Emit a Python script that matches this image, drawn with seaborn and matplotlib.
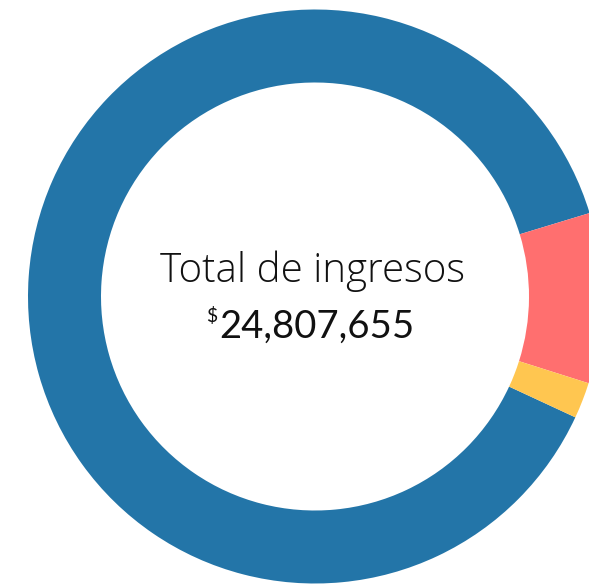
import matplotlib
matplotlib.use("Agg")
import matplotlib.pyplot as plt
import seaborn as sns

# Data (amounts in pesos)
categories = ["Fuente principal", "Segunda fuente", "Otros"]
amounts = [21927000, 2377000, 503655]
colors = ["#2375a8", "#ff6f6f", "#ffc650"]

title = "Total de ingresos"
total = sum(amounts)

sns.set_theme(style="white")

W, H = 589, 584
fig = plt.figure(figsize=(W / 100, H / 100), dpi=100)
ax = fig.add_axes([0, 0, 1, 1])

# ring centre and radii in pixel units (y measured from the bottom)
cx, cy = 315, H - 296.5
outer, ring = 287, 73

ax.pie(amounts, colors=colors, labels=None, startangle=-24.9, counterclock=False,
       center=(cx, cy), radius=outer,
       wedgeprops=dict(width=ring, linewidth=0, antialiased=True))

ax.set_xlim(0, W)
ax.set_ylim(0, H)
ax.set_aspect("equal")
ax.axis("off")

ax.text(cx - 2, H - 282.3, title, ha="center", va="baseline",
        fontsize=29, fontfamily="Open Sans", fontweight="light", color="#111111")
ax.text(219, H - 337.7, f"{total:,}", ha="left", va="baseline",
        fontsize=27.5, fontfamily="Lato", fontweight="normal", color="#111111")
ax.text(206.5, H - 322, "$", ha="left", va="baseline",
        fontsize=14, fontfamily="Lato", fontweight="normal", color="#111111")

fig.savefig("out.png", dpi=100, facecolor="white")
